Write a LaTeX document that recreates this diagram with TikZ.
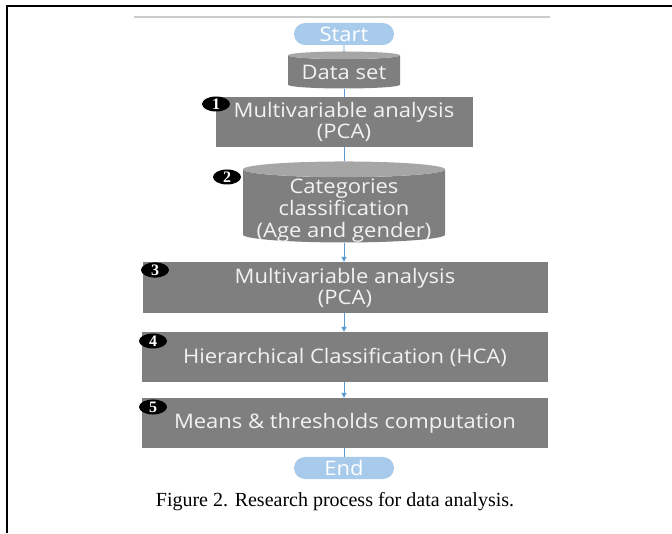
\documentclass[tikz,border=0pt]{standalone}
\usepackage{fontspec}
\setmainfont{Liberation Serif}
\newfontfamily\boxfont{Open Sans}[FakeStretch=1.1]
\usepackage{tikz}
\usetikzlibrary{shapes.geometric}
\usetikzlibrary{arrows.meta}
\definecolor{boxgray}{RGB}{127,127,127}
\definecolor{topgray}{RGB}{166,166,166}
\definecolor{pillblue}{RGB}{169,203,235}
\definecolor{linkblue}{RGB}{91,155,213}
\definecolor{boxtext}{RGB}{242,242,242}

\begin{document}
\begin{tikzpicture}[x=1pt,y=1pt,
  pill/.style={rectangle,rounded corners=11pt,fill=pillblue,text=white,font=\boxfont\fontsize{20}{21}\selectfont,minimum width=100,minimum height=22,inner sep=0pt},
  box/.style={rectangle,fill=boxgray,text=boxtext,font=\boxfont\fontsize{20}{21}\selectfont,align=center,inner sep=0pt},
  dbase/.style={cylinder,shape border rotate=90,aspect=0.09,cylinder uses custom fill,cylinder body fill=boxgray,cylinder end fill=topgray,text=boxtext,font=\boxfont\fontsize{20}{22}\selectfont,align=center,inner sep=0pt},
  badge/.style={ellipse,fill=black,text=white,font=\bfseries\fontsize{16}{16}\selectfont,minimum width=28,minimum height=15,inner sep=0pt},
  link/.style={draw=linkblue,line width=0.9pt},
  flow/.style={link,-{Triangle[length=5pt,width=5pt]}}]
\useasboundingbox (0,0) rectangle (672,533);
\draw[line width=2] (6.5,0) -- (6.5,527) -- (672,527);
\draw[black!20,line width=1.2] (134,516) -- (550,516);

\node[pill] (start) at (344,499) {Start};
\node[dbase,minimum width=112,minimum height=37] (data) at (344,461) {Data set};
\node[box,minimum width=257,minimum height=50] (pca1) at (344,411) {Multivariable analysis\\(PCA)};
\node[dbase,minimum width=202,minimum height=81] (cat) at (344,327) {\raisebox{-10pt}[0pt][0pt]{\begin{tabular}{@{}c@{}}Categories\\classification\\(Age and gender)\end{tabular}}};
\node[box,minimum width=405,minimum height=51] (pca2) at (345,245.5) {Multivariable analysis\\(PCA)};
\node[box,minimum width=406,minimum height=50] (hca) at (345,176) {Hierarchical Classification (HCA)};
\node[box,minimum width=406,minimum height=50] (mean) at (345,110) {Means \& thresholds computation};
\node[pill] (end) at (344,65) {End};

\node[badge] (b1) at (216,429) {1};
\node[badge] (b2) at (227,356) {2};
\node[badge] (b3) at (155,263) {3};
\node[badge] (b4) at (153,192) {4};
\node[badge] (b5) at (153,126) {5};

\draw[link] (start) -- (data);
\draw[link] (data) -- (pca1);
\draw[link] (pca1) -- (cat);
\draw[flow] (cat.south) -- (cat.south |- pca2.north);
\draw[flow] (pca2.south -| cat.south) -- (cat.south |- hca.north);
\draw[flow] (hca.south -| cat.south) -- (cat.south |- mean.north);
\draw[link] (mean.south -| end.north) -- (end);

\node (cap) at (335,31) {\fontsize{20}{22}\selectfont Figure 2. Research process for data analysis.};
\end{tikzpicture}
\end{document}
